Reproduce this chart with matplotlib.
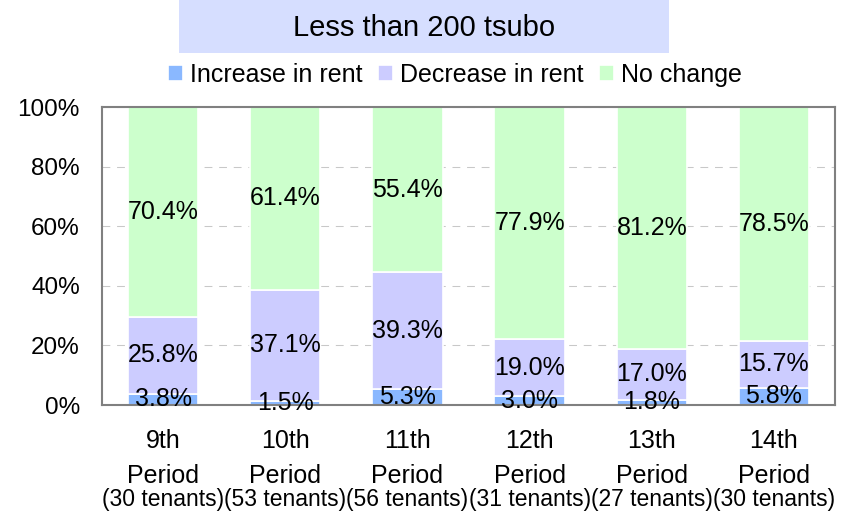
import matplotlib.pyplot as plt
from matplotlib.patches import Rectangle
from matplotlib.transforms import blended_transform_factory
import numpy as np

plt.rcParams['font.family'] = ['Liberation Sans', 'DejaVu Sans']

periods = ["9th", "10th", "11th", "12th", "13th", "14th"]
tenants = ["(30 tenants)", "(53 tenants)", "(56 tenants)", "(31 tenants)", "(27 tenants)", "(30 tenants)"]
increase = [3.8, 1.5, 5.3, 3.0, 1.8, 5.8]
decrease = [25.8, 37.1, 39.3, 19.0, 17.0, 15.7]
no_change = [70.4, 61.4, 55.4, 77.9, 81.2, 78.5]

series = [
    ("Increase in rent", increase, "#8AB8FF"),
    ("Decrease in rent", decrease, "#CCCCFF"),
    ("No change", no_change, "#CCFFCC"),
]

W, H = 847, 511


def main():
    fig = plt.figure(figsize=(8.47, 5.11), dpi=100)
    ax = fig.add_axes([102 / W, 1 - 405 / H, 733 / W, 298 / H])

    x = np.arange(len(periods))
    bottom = np.zeros(len(periods))
    for name, vals, color in series:
        vals = np.array(vals)
        ax.bar(x, vals, 0.575, bottom=bottom, color=color, edgecolor="white",
               linewidth=1.2, label=name, zorder=2)
        for xi, b, v in zip(x, bottom, vals):
            ax.text(xi, b + v / 2, f"{v:.1f}%", ha="center", va="center",
                    fontsize=18, zorder=3)
        bottom += vals

    ax.set_xlim(-0.5, len(periods) - 0.5)
    ax.set_ylim(0, 100)
    ax.set_yticks([0, 20, 40, 60, 80, 100])
    ax.set_yticklabels([f"{t}%" for t in range(0, 101, 20)], fontsize=17.5)
    ax.set_xticks([])
    ax.tick_params(axis="y", length=0, pad=16)
    ax.yaxis.grid(True, linestyle=(0, (7.5, 6.5)), color="#C8C8C8", linewidth=0.75, zorder=0)
    for s in ax.spines.values():
        s.set_color("#808080")
        s.set_linewidth(1.5)

    # x labels, three lines each
    tr = blended_transform_factory(ax.transData, fig.transFigure)
    for xi, p, t in zip(x, periods, tenants):
        ax.text(xi, 1 - 448 / H, p, transform=tr, ha="center", va="baseline", fontsize=18)
        ax.text(xi, 1 - 483 / H, "Period", transform=tr, ha="center", va="baseline", fontsize=18)
        ax.text(xi, 1 - 506 / H, t, transform=tr, ha="center", va="baseline", fontsize=16.5)

    # title box
    fig.patches.append(Rectangle((179 / W, 1 - 53 / H), 490 / W, 53 / H,
                                 transform=fig.transFigure, facecolor="#D6DEFF",
                                 edgecolor="none"))
    fig.text(424 / W, 1 - 28 / H, "Less than 200 tsubo", ha="center", va="center",
             fontsize=21)

    fig.legend(loc="center", bbox_to_anchor=(455 / W, 1 - 75 / H), ncol=3,
               frameon=False, fontsize=18, handlelength=0.6, handleheight=0.6,
               handletextpad=0.3, columnspacing=0.6, borderpad=0)

    fig.savefig("out.png", dpi=100)


if __name__ == '__main__':
    main()
